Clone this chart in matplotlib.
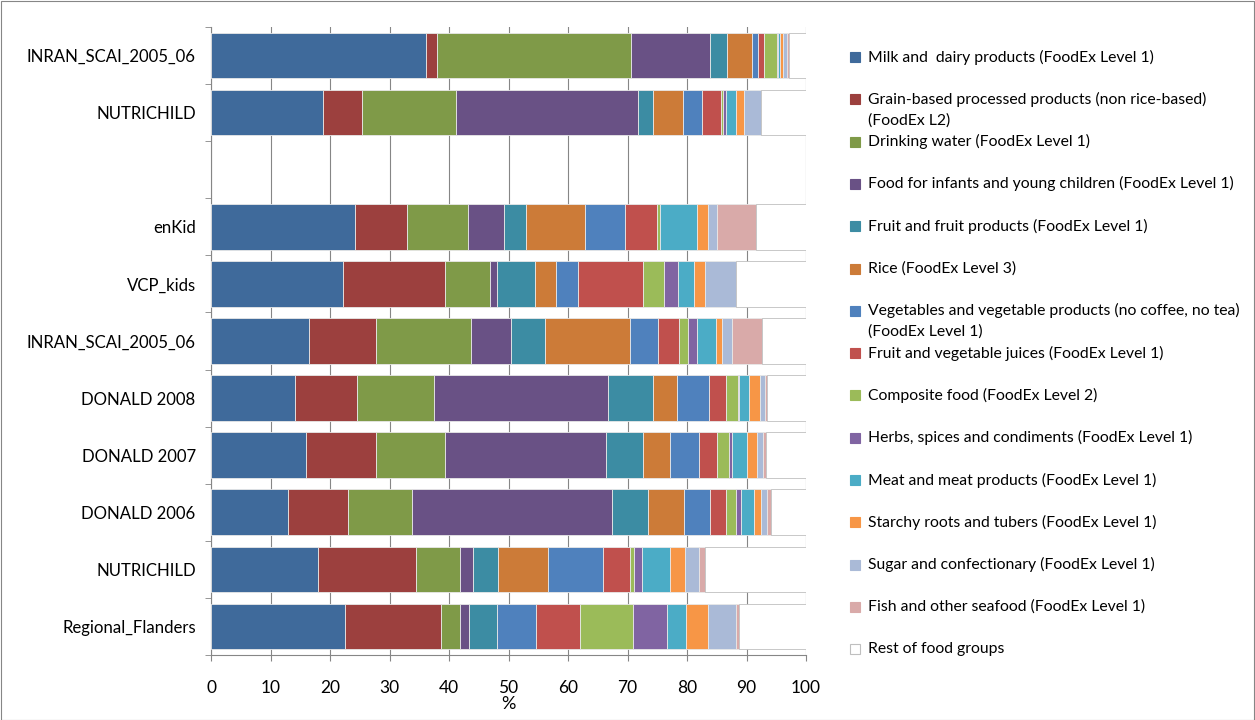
import matplotlib.pyplot as plt
import matplotlib.patches as mpatches
import numpy as np

plt.rcParams.update({
    'font.family': ['Lato', 'DejaVu Sans'],
    'font.size': 11,
    'axes.edgecolor': '#868686',
    'xtick.color': '#868686',
    'ytick.color': '#868686',
    'xtick.labelcolor': 'black',
    'ytick.labelcolor': 'black',
})

# ── Data ──────────────────────────────────────────────────────
studies = ['INRAN_SCAI_2005_06', 'NUTRICHILD', 'enKid', 'VCP_kids', 'INRAN_SCAI_2005_06',
           'DONALD 2008', 'DONALD 2007', 'DONALD 2006', 'NUTRICHILD', 'Regional_Flanders']
slots = [0, 1, 3, 4, 5, 6, 7, 8, 9, 10]   # row 2 left empty as a separator

milk      = [36.2, 18.8, 24.2, 22.2, 16.4, 14.1, 16.0, 13.0, 17.9, 22.5]
grain     = [ 1.7,  6.5,  8.7, 17.2, 11.3, 10.4, 11.7, 10.0, 16.5, 16.1]
water     = [32.7, 15.9, 10.3,  7.5, 16.0, 12.9, 11.6, 10.8,  7.5,  3.3]
infant    = [13.2, 30.5,  6.0,  1.2,  6.7, 29.4, 27.1, 33.6,  2.2,  1.5]
fruit     = [ 2.9,  2.6,  3.8,  6.3,  5.7,  7.5,  6.2,  6.0,  4.1,  4.7]
rice      = [ 4.2,  5.0,  9.8,  3.5, 14.3,  4.0,  4.6,  6.1,  8.4,  0.0]
veg       = [ 1.0,  3.2,  6.8,  3.8,  4.8,  5.4,  4.8,  4.4,  9.3,  6.6]
juices    = [ 1.1,  3.2,  5.4, 10.9,  3.5,  2.9,  3.0,  2.7,  4.6,  7.4]
composite = [ 2.2,  0.3,  0.5,  3.6,  1.5,  1.9,  2.0,  1.6,  0.6,  8.9]
herbs     = [ 0.1,  0.6,  0.0,  2.3,  1.5,  0.3,  0.5,  0.8,  1.3,  5.6]
meat      = [ 0.4,  1.6,  6.1,  2.6,  3.1,  1.7,  2.5,  2.2,  4.8,  3.3]
starchy   = [ 0.4,  1.3,  2.0,  2.0,  1.1,  1.7,  1.7,  1.3,  2.5,  3.6]
sugar     = [ 0.7,  3.0,  1.5,  5.1,  1.6,  0.9,  1.0,  1.0,  2.4,  4.7]
fish      = [ 0.4,  0.0,  6.5,  0.1,  5.1,  0.4,  0.5,  0.6,  1.0,  0.5]
rest      = [ 2.8,  7.5,  8.4, 11.7,  7.4,  6.5,  6.8,  5.9, 16.9, 11.3]

labels = [
    'Milk and  dairy products (FoodEx Level 1)',
    'Grain-based processed products (non rice-based)\n(FoodEx L2)',
    'Drinking water (FoodEx Level 1)',
    'Food for infants and young children (FoodEx Level 1)',
    'Fruit and fruit products (FoodEx Level 1)',
    'Rice (FoodEx Level 3)',
    'Vegetables and vegetable products (no coffee, no tea)\n(FoodEx Level 1)',
    'Fruit and vegetable juices (FoodEx Level 1)',
    'Composite food (FoodEx Level 2)',
    'Herbs, spices and condiments (FoodEx Level 1)',
    'Meat and meat products (FoodEx Level 1)',
    'Starchy roots and tubers (FoodEx Level 1)',
    'Sugar and confectionary (FoodEx Level 1)',
    'Fish and other seafood (FoodEx Level 1)',
    'Rest of food groups',
]
series = [milk, grain, water, infant, fruit, rice, veg, juices,
          composite, herbs, meat, starchy, sugar, fish, rest]
colors = ['#3F6A9B', '#9C403E', '#7F9A48', '#695185', '#3C8CA3', '#CC7B38',
          '#4F81BD', '#C0504D', '#9BBB59', '#8064A2', '#4BACC6', '#F79646',
          '#AABAD7', '#D9AAA9', '#FFFFFF']

# ── Figure ────────────────────────────────────────────────────
fig = plt.figure(figsize=(12.55, 7.2), dpi=100)
ax = fig.add_axes([211 / 1255, 65 / 720, 595 / 1255, 628 / 720])

left = np.zeros(len(studies))
for vals, col in zip(series, colors):
    vals = np.array(vals)
    edge = '#BFBFBF' if col == '#FFFFFF' else '#E8E8E8'
    ax.barh(slots, vals, left=left, height=0.8, color=col,
            edgecolor=edge, linewidth=0.6, zorder=3)
    left += vals

ax.set_xlim(0, 100)
ax.set_ylim(10.5, -0.5)
ax.set_xticks(np.arange(0, 101, 10))
ax.tick_params(axis='x', direction='out', length=4, labelsize=12.5, pad=14)
ax.set_xlabel('%', fontsize=13, labelpad=0)
ax.xaxis.grid(True, color='#868686', linewidth=0.8, zorder=0)

ax.set_yticks(slots)
ax.set_yticklabels(studies)
ax.tick_params(axis='y', length=0, pad=11, labelsize=12.1)
ax.set_yticks(np.arange(-0.5, 11, 1), minor=True)
ax.tick_params(axis='y', which='minor', direction='out', length=4)

for s in ['top', 'right']:
    ax.spines[s].set_visible(False)

# ── Legend drawn by hand so wrapped labels keep the marker on line 1 ──
y0, step = 57, 42.3
for i, (lab, col) in enumerate(zip(labels, colors)):
    y = y0 + i * step
    ec = '#BFBFBF' if col == '#FFFFFF' else col
    fig.add_artist(mpatches.Rectangle((850 / 1255, 1 - (y + 5) / 720), 10 / 1255, 10 / 720,
                                      transform=fig.transFigure, facecolor=col,
                                      edgecolor=ec, linewidth=0.8))
    for j, ln in enumerate(lab.split('\n')):
        fig.text(868 / 1255, 1 - (y + j * 21) / 720, ln, fontsize=11.3,
                 va='center', ha='left')

# thin border around the whole chart
fig.add_artist(mpatches.Rectangle((0.5 / 1255, 0.5 / 720), 1 - 1.5 / 1255, 1 - 1.5 / 720,
                                  transform=fig.transFigure, fill=False,
                                  edgecolor='#868686', linewidth=0.8))

fig.savefig('out.png', dpi=100, facecolor='white')
